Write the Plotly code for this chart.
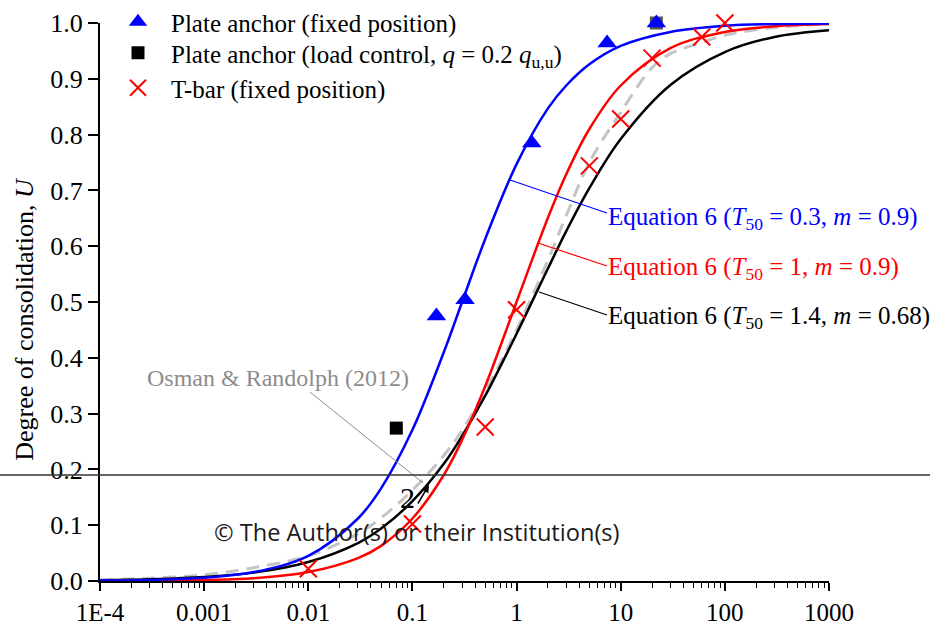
import plotly.graph_objects as go

# ---------------- data ----------------
plate_T = [0.17, 0.32, 1.4, 7.4, 22]
plate_U = [0.475, 0.504, 0.785, 0.964, 1.0]

load_T = [0.07]
load_U = [0.274]
load_T_hidden = [22]
load_U_hidden = [1.0]

tbar_T = [0.01, 0.1, 0.5, 1.0, 5.0, 10, 20, 60, 100]
tbar_U = [0.022, 0.102, 0.276, 0.486, 0.744, 0.828, 0.937, 0.975, 1.0]

curve_T = [1e-4, 3e-4, 1e-3, 3e-3, 0.01, 0.03, 0.05, 0.1, 0.2, 0.3, 0.5,
           1, 2, 3, 5, 10, 30, 100, 300, 1000]
eq_blue_U = [0.0007, 0.002, 0.006, 0.016, 0.045, 0.112, 0.166, 0.271, 0.41, 0.50, 0.613,
             0.747, 0.847, 0.888, 0.926, 0.959, 0.984, 0.995, 0.998, 0.999]
eq_red_U = [0.0003, 0.0007, 0.002, 0.005, 0.016, 0.041, 0.063, 0.112, 0.19, 0.253, 0.349,
            0.50, 0.651, 0.729, 0.81, 0.888, 0.955, 0.984, 0.994, 0.998]
eq_black_U = [0.0015, 0.0032, 0.0072, 0.015, 0.034, 0.068, 0.094, 0.143, 0.21, 0.26, 0.332,
              0.443, 0.56, 0.627, 0.704, 0.792, 0.889, 0.948, 0.975, 0.987]

osman_T = [1e-4, 3e-4, 1e-3, 3e-3, 0.01, 0.03, 0.05, 0.1, 0.2, 0.3, 0.5,
           1, 2, 3, 5, 10, 20, 30, 60, 100, 300, 1000]
osman_U = [0.002, 0.005, 0.011, 0.024, 0.045, 0.085, 0.113, 0.163, 0.225, 0.27, 0.34,
           0.45, 0.575, 0.655, 0.75, 0.84, 0.92, 0.945, 0.965, 0.978, 0.992, 0.998]

x_tickvals = [1e-4, 1e-3, 1e-2, 1e-1, 1, 10, 100, 1000]
x_ticktext = ["1E-4", "0.001", "0.01", "0.1", "1", "10", "100", "1000"]
y_tickvals = [0.0, 0.1, 0.2, 0.3, 0.4, 0.5, 0.6, 0.7, 0.8, 0.9, 1.0]
y_ticktext = ["0.0", "0.1", "0.2", "0.3", "0.4", "0.5", "0.6", "0.7", "0.8", "0.9", "1.0"]

SERIF = "Liberation Serif, Times New Roman, serif"
BLUE = "#0000FF"
RED = "#FF0000"
GRAY = "#C4C4C4"

# plot area in pixels (for placing annotations)
L, R, T, B = 100, 829, 23, 581
def px(x):
    return (x - L) / (R - L)
def py(y):
    return (B - y) / (B - T)

fig = go.Figure()

fig.add_trace(go.Scatter(x=osman_T, y=osman_U, mode="lines", line_shape="spline",
                         line=dict(color=GRAY, width=3, dash="13px,8px"), showlegend=False))
fig.add_trace(go.Scatter(x=curve_T, y=eq_black_U, mode="lines", line_shape="spline",
                         line=dict(color="black", width=2.5), showlegend=False))
fig.add_trace(go.Scatter(x=curve_T, y=eq_red_U, mode="lines", line_shape="spline",
                         line=dict(color=RED, width=2.5), showlegend=False))
fig.add_trace(go.Scatter(x=curve_T, y=eq_blue_U, mode="lines", line_shape="spline",
                         line=dict(color=BLUE, width=2.5), showlegend=False))

fig.add_trace(go.Scatter(x=load_T_hidden, y=load_U_hidden, mode="markers",
                         marker=dict(symbol="square", size=13, color="#555555"),
                         showlegend=False, cliponaxis=False))
fig.add_trace(go.Scatter(x=plate_T, y=plate_U, mode="markers", name="Plate anchor (fixed position)",
                         marker=dict(symbol="triangle-up", size=17, color=BLUE),
                         legend="legend", cliponaxis=False))
fig.add_trace(go.Scatter(x=load_T, y=load_U, mode="markers",
                         name="Plate anchor (load control, <i>q</i> = 0.2 <i>q</i><sub>u,u</sub>)",
                         marker=dict(symbol="square", size=13, color="black"),
                         legend="legend2", cliponaxis=False))
fig.add_trace(go.Scatter(x=tbar_T, y=tbar_U, mode="markers", name="T-bar (fixed position)",
                         marker=dict(symbol="x-thin", size=17, color=RED,
                                     line=dict(color=RED, width=2)),
                         legend="legend3", cliponaxis=False))

annotations = [
    dict(x=px(606), y=py(218), xref="paper", yref="paper", xanchor="left", yanchor="middle",
         showarrow=False, text="Equation 6 (<i>T</i><sub>50</sub> = 0.3, <i>m</i> = 0.9)",
         font=dict(family=SERIF, size=25, color=BLUE)),
    dict(x=px(606), y=py(268), xref="paper", yref="paper", xanchor="left", yanchor="middle",
         showarrow=False, text="Equation 6 (<i>T</i><sub>50</sub> = 1, <i>m</i> = 0.9)",
         font=dict(family=SERIF, size=25, color=RED)),
    dict(x=px(606), y=py(317), xref="paper", yref="paper", xanchor="left", yanchor="middle",
         showarrow=False, text="Equation 6 (<i>T</i><sub>50</sub> = 1.4, <i>m</i> = 0.68)",
         font=dict(family=SERIF, size=25, color="black")),
    dict(x=px(145), y=py(378), xref="paper", yref="paper", xanchor="left", yanchor="middle",
         showarrow=False, text="Osman &amp; Randolph (2012)",
         font=dict(family=SERIF, size=24, color="#8C8C8C")),
    dict(x=px(407), y=py(497), xref="paper", yref="paper", xanchor="center", yanchor="middle",
         showarrow=False, text="2", font=dict(family=SERIF, size=30, color="black")),
    dict(x=px(429), y=py(485), xref="paper", yref="paper", showarrow=True, text="",
         ax=-12, ay=20, arrowhead=2, arrowsize=1, arrowwidth=1.5, arrowcolor="black"),
    dict(x=px(212), y=py(532), xref="paper", yref="paper", xanchor="left", yanchor="middle",
         showarrow=False, text="© The Author(s) or their Institution(s)",
         font=dict(family="Open Sans, sans-serif", size=23.6, color="#1a1a1a")),
    dict(x=px(25), y=0.47, xref="paper", yref="paper", xanchor="center", yanchor="middle",
         showarrow=False, textangle=-90, text="Degree of consolidation, <i>U</i>",
         font=dict(family=SERIF, size=26, color="black")),
]

shapes = [
    dict(type="line", xref="paper", yref="paper", x0=px(510), y0=py(180), x1=px(607), y1=py(213),
         line=dict(color=BLUE, width=1.2)),
    dict(type="line", xref="paper", yref="paper", x0=px(538), y0=py(243), x1=px(607), y1=py(266),
         line=dict(color=RED, width=1.2)),
    dict(type="line", xref="paper", yref="paper", x0=px(539), y0=py(292), x1=px(607), y1=py(315),
         line=dict(color="black", width=1.2)),
    dict(type="line", xref="paper", yref="paper", x0=px(310), y0=py(392), x1=px(423), y1=py(483),
         line=dict(color="#8C8C8C", width=1)),
    dict(type="line", xref="paper", yref="y", x0=px(0), y0=0.19, x1=px(930), y1=0.19,
         line=dict(color="#333333", width=1.5)),
]

legend_common = dict(xanchor="left", yanchor="top", bgcolor="rgba(0,0,0,0)",
                     font=dict(family=SERIF, size=25, color="black"), itemwidth=56)

fig.update_layout(
    width=930, height=625,
    margin=dict(l=L, r=930 - R, t=T, b=625 - B, autoexpand=False),
    paper_bgcolor="white", plot_bgcolor="white",
    font=dict(family=SERIF, size=25, color="black"),
    showlegend=True,
    legend=dict(x=px(105), y=py(-1), **legend_common),
    legend2=dict(x=px(105), y=py(30), **legend_common),
    legend3=dict(x=px(105), y=py(65), **legend_common),
    annotations=annotations,
    shapes=shapes,
    xaxis=dict(type="log", range=[-4, 3], tickvals=x_tickvals, ticktext=x_ticktext,
               ticks="outside", ticklen=8, tickwidth=1.5, tickcolor="black", automargin=False,
               showline=True, linecolor="black", linewidth=2, showgrid=False, zeroline=False,
               tickfont=dict(family=SERIF, size=25),
               minor=dict(ticks="outside", ticklen=5, tickwidth=1.2, tickcolor="black", dtick="D1",
                          showgrid=False)),
    yaxis=dict(range=[0, 1.0], tickvals=y_tickvals, ticktext=y_ticktext, automargin=False,
               ticks="outside", ticklen=10, tickwidth=1.5, tickcolor="black",
               showline=True, linecolor="black", linewidth=2, showgrid=False, zeroline=False,
               tickfont=dict(family=SERIF, size=26)),
)

fig.write_html("out.html")
